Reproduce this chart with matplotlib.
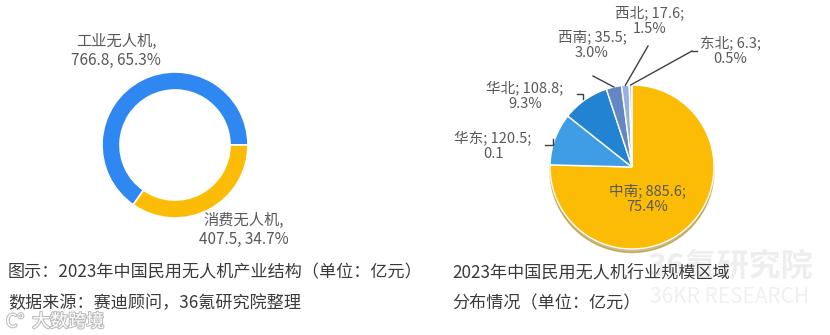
import numpy as np
import matplotlib.pyplot as plt
import matplotlib.patheffects as pe

plt.rcParams['font.family'] = ['Noto Sans CJK SC', 'DejaVu Sans']

# left chart: industry structure (100 million yuan)
seg_names = ['工业无人机', '消费无人机']
seg_values = [766.8, 407.5]
seg_pcts = ['65.3%', '34.7%']
seg_colors = ['#2F87F2', '#FCBC05']

# right chart: regional distribution (100 million yuan)
region_names = ['中南', '华东', '华北', '西南', '西北', '东北']
region_values = [885.6, 120.5, 108.8, 35.5, 17.6, 6.3]
region_pcts = ['75.4%', '0.1', '9.3%', '3.0%', '1.5%', '0.5%']
region_colors = ['#FCBC05', '#3F9DE5', '#2283D3', '#6487C4', '#97B0DD', '#C2D3EF']

W, H = 830, 335
fig = plt.figure(figsize=(W / 100, H / 100), dpi=100)
ax = fig.add_axes([0, 0, 1, 1])

def Y(y):
    # pixel row -> data y
    return H - y

label_col = '#595959'

# ---- donut ----
dc, dr = (175, Y(145)), 73
ax.pie(seg_values, colors=seg_colors, startangle=0, counterclock=True,
       center=dc, radius=dr, frame=True,
       wedgeprops=dict(width=18, edgecolor='white', linewidth=1.2))
donut_pos = [(116, 51), (244, 230)]
for name, v, p, (x, y) in zip(seg_names, seg_values, seg_pcts, donut_pos):
    ax.text(x, Y(y), '%s,\n%s, %s' % (name, v, p), ha='center', va='center',
            fontsize=11, color=label_col, linespacing=1.15)

# ---- pie ----
pc, pr = (632, Y(167)), 82
wedges, _ = ax.pie(region_values, colors=region_colors, startangle=90,
                   counterclock=False, center=pc, radius=pr, frame=True,
                   shadow={'ox': 0, 'oy': -2.5, 'shade': 0.35},
                   wedgeprops=dict(edgecolor='white', linewidth=1.0))
ax.set_xlim(0, W)
ax.set_ylim(0, H)
ax.set_aspect('equal')
ax.axis('off')

region_pos = {'中南': (647, 199), '华东': (493, 146), '华北': (525, 96),
              '西南': (592, 45), '西北': (650, 21), '东北': (730, 51)}
line_end = {'西南': (593, 76), '西北': (648, 46), '东北': (692, 51)}
# small bracket hooks, offsets (in pixels) from the wedge edge
hooks = {'华北': [(-8, -6), (-2, -6), (-2, -1)],
         '华东': [(-10, 6), (-2, 6), (-2, 0)]}

total = sum(region_values)
cum = 0
for name, v, p in zip(region_names, region_values, region_pcts):
    mid = 90 - 360 * (cum + v / 2) / total
    cum += v
    x, y = region_pos[name]
    ax.text(x, Y(y), '%s; %s;\n%s' % (name, v, p), ha='center', va='center',
            fontsize=10.5, color=label_col, linespacing=1.15)
    a = np.deg2rad(mid)
    ex, ey = pc[0] + pr * np.cos(a), pc[1] + pr * np.sin(a)
    if name in line_end:
        lx, ly = line_end[name]
        ax.plot([ex, lx], [ey, Y(ly)], color='#404040', lw=1.0)
        if name == '东北':
            ax.plot([lx, lx + 5], [Y(ly), Y(ly)], color='#404040', lw=1.0)
    elif name in hooks:
        hx = [ex + dx for dx, dy in hooks[name]]
        hy = [ey - dy for dx, dy in hooks[name]]
        ax.plot(hx, hy, color='#404040', lw=1.0)

# ---- captions ----
cap_col = '#3A3A3A'
ax.text(8, Y(272), '图示：2023年中国民用无人机产业结构（单位：亿元）', fontsize=12.3,
        color=cap_col, va='center')
ax.text(8, Y(303), '数据来源：赛迪顾问，36氪研究院整理', fontsize=12.3,
        color=cap_col, va='center')
ax.text(452, Y(272), '2023年中国民用无人机行业规模区域', fontsize=12.3,
        color=cap_col, va='center')
ax.text(452, Y(303), '分布情况（单位：亿元）', fontsize=12.3,
        color=cap_col, va='center')

# watermarks
ax.text(730, Y(267), '36氪研究院', fontsize=23, fontweight='bold', color='#EEEEEE',
        ha='center', va='center', zorder=0)
ax.text(730, Y(297), '36KR RESEARCH', fontsize=15, color='#F0F0F0',
        ha='center', va='center', zorder=0)
ax.text(15, Y(322), 'C°', fontsize=13, color='white', ha='center', va='center',
        path_effects=[pe.withStroke(linewidth=1.5, foreground='#BBBBBB')])
ax.text(68, Y(322), '大数跨境', fontsize=13, color='white', ha='center', va='center',
        path_effects=[pe.withStroke(linewidth=1.5, foreground='#BBBBBB')])

fig.savefig('out.png', dpi=100, facecolor='white')
